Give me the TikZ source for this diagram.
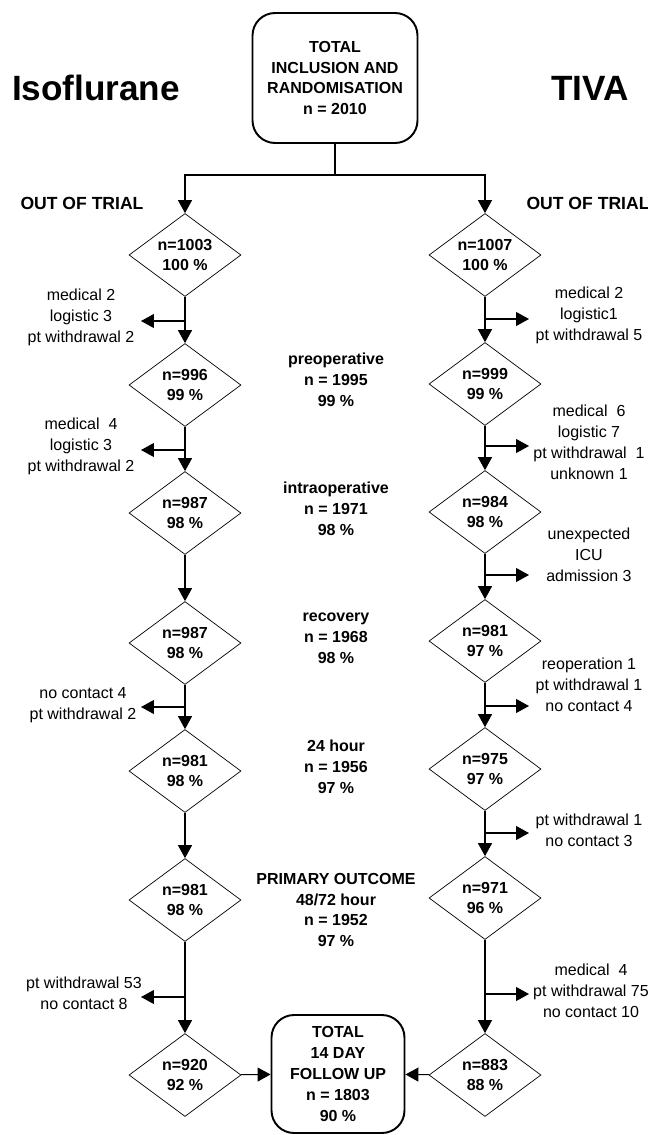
\documentclass[tikz,border=0pt]{standalone}
\usepackage{fontspec}
\setmainfont{Liberation Sans}
\usetikzlibrary{shapes.geometric,arrows.meta}

\begin{document}
\begin{tikzpicture}[x=0.02cm,y=-0.02cm,
		every node/.style={font=\fontsize{9.1}{11.9}\selectfont,align=center,inner sep=0pt},
		box/.style={draw,line width=1.1pt,rounded corners=0.45cm},
		dia/.style={draw,diamond,shape aspect=1.35,minimum width=2.24cm,minimum height=1.66cm,font=\fontsize{9.1}{11.9}\selectfont\bfseries},
		mid/.style={font=\fontsize{9.1}{11.9}\selectfont\bfseries},
		arr/.style={line width=0.6pt,-{Triangle[length=0.26cm,width=0.28cm]}}]
		\useasboundingbox (0,0) rectangle (648,1135);
		\node[box,mid,minimum width=3.3cm,minimum height=2.6cm] (top) at (335,78) {TOTAL\\INCLUSION AND\\RANDOMISATION\\n = 2010};
		\node[font=\fontsize{20}{24}\selectfont\bfseries] (iso) at (96,88) {Isoflurane};
		\node[font=\fontsize{20}{24}\selectfont\bfseries] (tiva) at (590,88) {TIVA};
		\node[font=\fontsize{10}{12}\selectfont\bfseries] (outL) at (82,203) {OUT OF TRIAL};
		\node[font=\fontsize{10}{12}\selectfont\bfseries] (outR) at (588,203) {OUT OF TRIAL};
		\node[dia] (L1) at (185,255) {n=1003\\100 \%};
		\node[dia] (L2) at (185,385) {n=996\\99 \%};
		\node[dia] (L3) at (185,513) {n=987\\98 \%};
		\node[dia] (L4) at (185,643) {n=987\\98 \%};
		\node[dia] (L5) at (185,771) {n=981\\98 \%};
		\node[dia] (L6) at (185,900) {n=981\\98 \%};
		\node[dia] (L7) at (185,1075) {n=920\\92 \%};
		\node[dia] (R1) at (485,255) {n=1007\\100 \%};
		\node[dia] (R2) at (485,384) {n=999\\99 \%};
		\node[dia] (R3) at (485,512) {n=984\\98 \%};
		\node[dia] (R4) at (485,641) {n=981\\97 \%};
		\node[dia] (R5) at (485,769) {n=975\\97 \%};
		\node[dia] (R6) at (485,898) {n=971\\96 \%};
		\node[dia] (R7) at (485,1075) {n=883\\88 \%};
		\node[box,mid,minimum width=2.66cm,minimum height=2.36cm] (fin) at (338,1074) {TOTAL\\14 DAY\\FOLLOW UP\\n = 1803\\90 \%};
		\node[mid] (pre) at (336,380) {preoperative\\n = 1995\\99 \%};
		\node[mid] (intra) at (336,509) {intraoperative\\n = 1971\\98 \%};
		\node[mid] (rec) at (336,638) {recovery\\n = 1968\\98 \%};
		\node[mid] (h24) at (336,767) {24 hour\\n = 1956\\97 \%};
		\node[mid] (prim) at (336,910) {PRIMARY OUTCOME\\48/72 hour\\n = 1952\\97 \%};
		\node (txL1) at (81,317) {medical 2\\logistic 3\\pt withdrawal 2};
		\node (txL2) at (81,446) {medical\ \ 4\\logistic 3\\pt withdrawal 2};
		\node (txL4) at (83,705) {no contact 4\\pt withdrawal 2};
		\node (txL6) at (84,993) {pt withdrawal 53\\no contact 8};
		\node (txR1) at (589,315) {medical 2\\logistic1\\pt withdrawal 5};
		\node (txR2) at (589,442) {medical\ \ 6\\logistic 7\\pt withdrawal\ \ 1\\unknown 1};
		\node (txR3) at (589,555) {unexpected\\ICU\\admission 3};
		\node (txR4) at (589,685) {reoperation 1\\pt withdrawal 1\\no contact 4};
		\node (txR5) at (589,830) {pt withdrawal 1\\no contact 3};
		\node (txR6) at (591,991) {medical\ \ 4\\pt withdrawal 75\\no contact 10};
		\coordinate (split) at (335,175);
		\draw[line width=0.6pt] (top) -- (split);
		\draw[arr] (split) -| (L1);
		\draw[arr] (split) -| (R1);
		\draw[arr] (L1) -- (L2);
		\draw[arr] (L2) -- (L3);
		\draw[arr] (L3) -- (L4);
		\draw[arr] (L4) -- (L5);
		\draw[arr] (L5) -- (L6);
		\draw[arr] (L6) -- (L7);
		\draw[arr] (R1) -- (R2);
		\draw[arr] (R2) -- (R3);
		\draw[arr] (R3) -- (R4);
		\draw[arr] (R4) -- (R5);
		\draw[arr] (R5) -- (R6);
		\draw[arr] (R6) -- (R7);
		\draw[arr] (L7) -- (fin);
		\draw[arr] (R7) -- (fin);
		\coordinate (bL1) at (185,321); \coordinate (eL1) at (141,321);
		\coordinate (bL2) at (185,450); \coordinate (eL2) at (141,450);
		\coordinate (bL4) at (185,707); \coordinate (eL4) at (141,707);
		\coordinate (bL6) at (185,997); \coordinate (eL6) at (141,997);
		\coordinate (bR1) at (485,319); \coordinate (eR1) at (529,319);
		\coordinate (bR2) at (485,446); \coordinate (eR2) at (529,446);
		\coordinate (bR3) at (485,575); \coordinate (eR3) at (529,575);
		\coordinate (bR4) at (485,706); \coordinate (eR4) at (529,706);
		\coordinate (bR5) at (485,833); \coordinate (eR5) at (529,833);
		\coordinate (bR6) at (485,994); \coordinate (eR6) at (529,994);
		\draw[arr] (bL1) -- (eL1);
		\draw[arr] (bL2) -- (eL2);
		\draw[arr] (bL4) -- (eL4);
		\draw[arr] (bL6) -- (eL6);
		\draw[arr] (bR1) -- (eR1);
		\draw[arr] (bR2) -- (eR2);
		\draw[arr] (bR3) -- (eR3);
		\draw[arr] (bR4) -- (eR4);
		\draw[arr] (bR5) -- (eR5);
		\draw[arr] (bR6) -- (eR6);
\end{tikzpicture}
\end{document}
